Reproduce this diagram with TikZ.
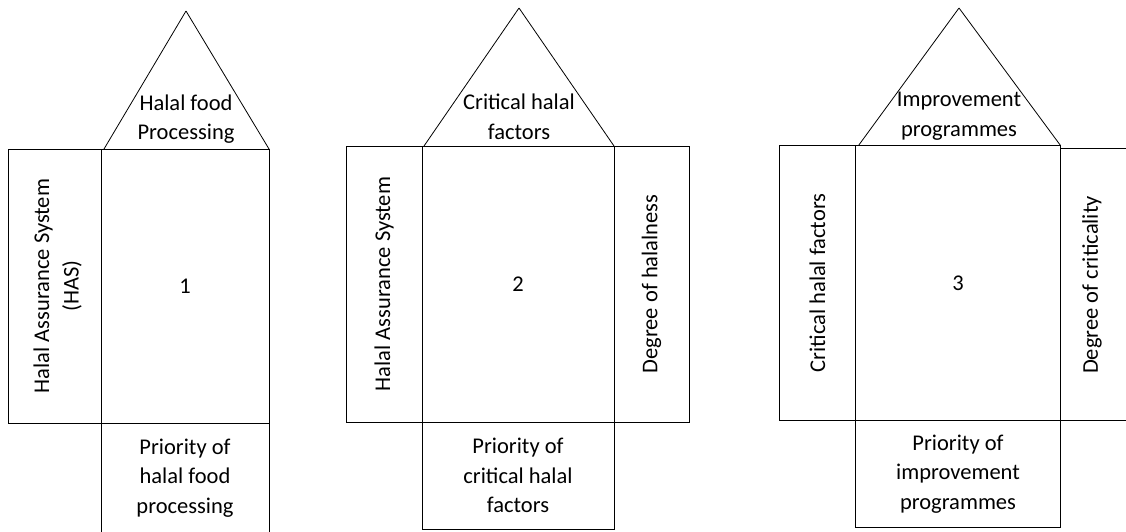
\documentclass[tikz,border=0pt]{standalone}
\usepackage{fontspec}
\setmainfont{Carlito}
\usetikzlibrary{positioning}
\tikzstyle{box} = [draw=black, line width=1pt, inner sep=0pt, outer sep=0pt, align=center, font=\fontsize{22.5}{29.5}\selectfont]
\tikzstyle{txt} = [inner sep=0pt, align=center, font=\fontsize{22.5}{29.5}\selectfont]
\tikzstyle{roof} = [line width=0.8pt]

\begin{document}
\begin{tikzpicture}[x=1pt,y=-1pt]
      \useasboundingbox (0,0) rectangle (1126,531);
      % house 1
      \node (m1) [box, minimum width=168pt, minimum height=274pt] at (185,286) {1};
      \node (l1) [box, minimum width=93pt, minimum height=274pt, left=0pt of m1] {};
      \node (b1) [box, minimum width=168pt, minimum height=110pt, below=0pt of m1] {Priority of\\halal food\\processing};
      \coordinate (a1) at (186,11);
      \node[txt, rotate=90] at ([xshift=3pt]l1.center) {Halal Assurance System\\(HAS)};
      \node[txt] at (186,119) {Halal food\\Processing};
      \draw[roof] ([xshift=3pt]m1.north west)--(a1);
      \draw[roof] (a1)--(m1.north east);
      % house 2
      \node (m2) [box, minimum width=192pt, minimum height=276pt] at (518,284) {2};
      \node (l2) [box, minimum width=76pt, minimum height=276pt, left=0pt of m2] {};
      \node (r2) [box, minimum width=75pt, minimum height=276pt, right=0pt of m2] {};
      \node (b2) [box, minimum width=192pt, minimum height=107pt, below=0pt of m2] {Priority of\\critical halal\\factors};
      \coordinate (a2) at (519,8);
      \node[txt, rotate=90] at (l2) {Halal Assurance System};
      \node[txt, rotate=90] at (r2) {Degree of halalness};
      \node[txt] at (519,117) {Critical halal\\factors};
      \draw[roof] ([xshift=2pt]m2.north west)--(a2);
      \draw[roof] (a2)--(m2.north east);
      % house 3
      \node (m3) [box, minimum width=205pt, minimum height=275pt] at (958,283) {3};
      \node (l3) [box, minimum width=76pt, minimum height=275pt, left=0pt of m3] {};
      \node (r3) [box, minimum width=79pt, minimum height=272pt, anchor=south west] at (m3.south east) {};
      \node (b3) [box, minimum width=205pt, minimum height=107pt, below=0pt of m3] {Priority of\\improvement\\programmes};
      \coordinate (a3) at (959,8);
      \node[txt, rotate=90] at (l3) {Critical halal factors};
      \node[txt, rotate=90] at (1092,285) {Degree of criticality};
      \node[txt] at (959,116) {Improvement\\programmes};
      \draw[roof] ([xshift=3pt]m3.north west)--(a3);
      \draw[roof] (a3)--(m3.north east);
\end{tikzpicture}
\end{document}
